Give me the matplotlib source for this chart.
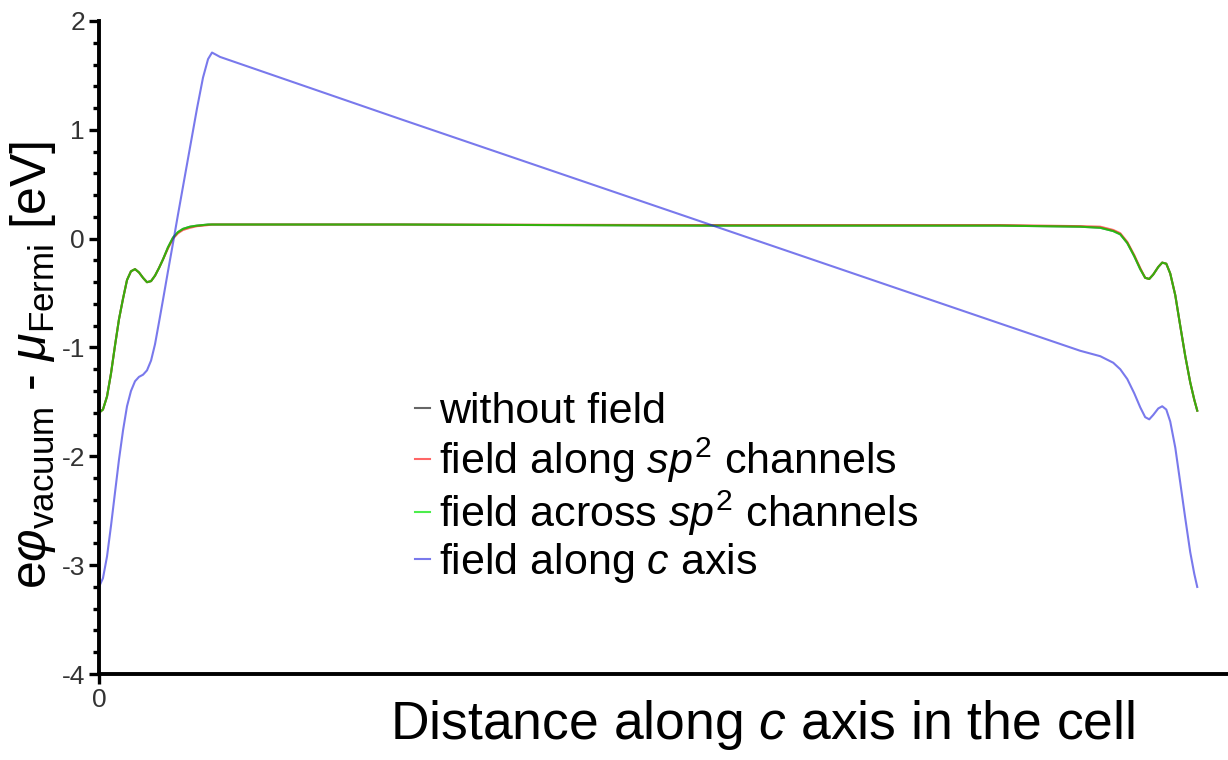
import numpy as np
import matplotlib
matplotlib.use('Agg')
import matplotlib.pyplot as plt
from matplotlib.ticker import MultipleLocator

plt.rcParams['font.family'] = ['Liberation Sans', 'DejaVu Sans']
plt.rcParams['mathtext.fontset'] = 'custom'
plt.rcParams['mathtext.rm'] = 'Liberation Sans'
plt.rcParams['mathtext.it'] = 'Liberation Sans:italic'
plt.rcParams['mathtext.bf'] = 'Liberation Sans:bold'
plt.rcParams['axes.unicode_minus'] = False

# position along the c axis, as a fraction of the cell
pos = [0.0, 0.0036, 0.0073, 0.0109, 0.0146, 0.0182, 0.0219, 0.0255, 0.0291, 0.0328,
       0.0364, 0.0401, 0.0437, 0.0474, 0.0510, 0.0546, 0.0583, 0.0628, 0.0674, 0.0719,
       0.0765, 0.0829, 0.0893, 0.0947, 0.0993, 0.1029, 0.1066, 0.1102, 0.2741, 0.5474,
       0.8206, 0.8934, 0.9117, 0.9235, 0.9299, 0.9363, 0.9426, 0.9481, 0.9526, 0.9563,
       0.9599, 0.9645, 0.9681, 0.9718, 0.9754, 0.9800, 0.9845, 0.9891, 0.9936, 0.9973,
       1.0]

no_field = [-1.60, -1.57, -1.45, -1.24, -0.98, -0.74, -0.55, -0.38, -0.30, -0.28,
            -0.31, -0.36, -0.40, -0.39, -0.34, -0.27, -0.19, -0.08, 0.01, 0.06,
            0.09, 0.11, 0.12, 0.125, 0.13, 0.13, 0.13, 0.13, 0.13, 0.12,
            0.12, 0.11, 0.10, 0.07, 0.04, -0.04, -0.16, -0.28, -0.36, -0.37,
            -0.33, -0.26, -0.22, -0.23, -0.32, -0.52, -0.80, -1.08, -1.32, -1.48,
            -1.58]

along_sp2 = [-1.60, -1.57, -1.45, -1.24, -0.98, -0.74, -0.55, -0.38, -0.30, -0.28,
             -0.31, -0.36, -0.40, -0.39, -0.34, -0.27, -0.19, -0.09, 0.00, 0.05,
             0.08, 0.10, 0.115, 0.12, 0.125, 0.13, 0.13, 0.13, 0.13, 0.125,
             0.125, 0.115, 0.11, 0.08, 0.05, -0.03, -0.15, -0.27, -0.36, -0.37,
             -0.33, -0.26, -0.22, -0.23, -0.32, -0.52, -0.80, -1.08, -1.32, -1.48,
             -1.58]

across_sp2 = [-1.60, -1.57, -1.45, -1.24, -0.98, -0.74, -0.55, -0.38, -0.30, -0.28,
              -0.31, -0.36, -0.40, -0.39, -0.34, -0.27, -0.19, -0.08, 0.01, 0.06,
              0.09, 0.11, 0.12, 0.125, 0.13, 0.13, 0.13, 0.13, 0.13, 0.12,
              0.12, 0.11, 0.10, 0.07, 0.04, -0.04, -0.16, -0.28, -0.36, -0.37,
              -0.33, -0.26, -0.22, -0.23, -0.32, -0.52, -0.80, -1.08, -1.32, -1.48,
              -1.58]

along_c = [-3.20, -3.12, -2.92, -2.64, -2.33, -2.03, -1.76, -1.54, -1.40, -1.31,
           -1.27, -1.25, -1.21, -1.12, -0.97, -0.77, -0.56, -0.30, -0.04, 0.22,
           0.48, 0.84, 1.20, 1.48, 1.65, 1.71, 1.69, 1.67, 1.10, 0.16,
           -0.78, -1.03, -1.08, -1.14, -1.20, -1.29, -1.42, -1.55, -1.64, -1.66,
           -1.62, -1.56, -1.54, -1.57, -1.68, -1.92, -2.24, -2.57, -2.88, -3.08,
           -3.20]

labels = ['without field', 'field along $sp^2$ channels',
          'field across $sp^2$ channels', 'field along $c$ axis']
colors = ['black', 'red', '#00e600', '#2020e0']
alphas = [0.6, 0.6, 0.7, 0.6]

fig = plt.figure(figsize=(12.28, 7.6), dpi=100)
ax = fig.add_axes([99/1228, 1 - 674/760, 1 - 99/1228, (674 - 21)/760])

for ys, c, a, lab in zip([no_field, along_sp2, across_sp2, along_c], colors, alphas, labels):
    ax.plot(pos, ys, color=c, alpha=a, lw=1.5, label=lab)

ax.set_xlim(0, 1.028)
ax.set_ylim(-4, 2)
ax.set_xticks([0])
ax.yaxis.set_major_locator(MultipleLocator(1))
ax.yaxis.set_minor_locator(MultipleLocator(0.2))

for s in ['top', 'right']:
    ax.spines[s].set_visible(False)
for s in ['left', 'bottom']:
    ax.spines[s].set_linewidth(2.8)
ax.tick_params(which='major', length=7, width=2.4, labelsize=19, labelcolor='#333333', pad=3)
ax.tick_params(which='minor', length=4.5, width=2.4)

ax.set_xlabel('Distance along $c$ axis in the cell', fontsize=38.5, va='top')
ax.xaxis.set_label_coords((762 - 99)/1129, -(698 - 674)/653)
ax.set_ylabel(r'e$\varphi_{\mathrm{vacuum}}$ - $\mu_{\mathrm{Fermi}}$ [eV]', fontsize=36, va='bottom')
ax.yaxis.set_label_coords(-(99 - 58)/1129, (674 - 365)/653)

leg = ax.legend(loc='upper left', bbox_to_anchor=(415/1228, 1 - 392/760),
                bbox_transform=fig.transFigure, frameon=False, fontsize=31,
                handlelength=0.35, handletextpad=0.2, labelspacing=0.08,
                borderpad=0, borderaxespad=0)

fig.savefig('out.png', dpi=100)
